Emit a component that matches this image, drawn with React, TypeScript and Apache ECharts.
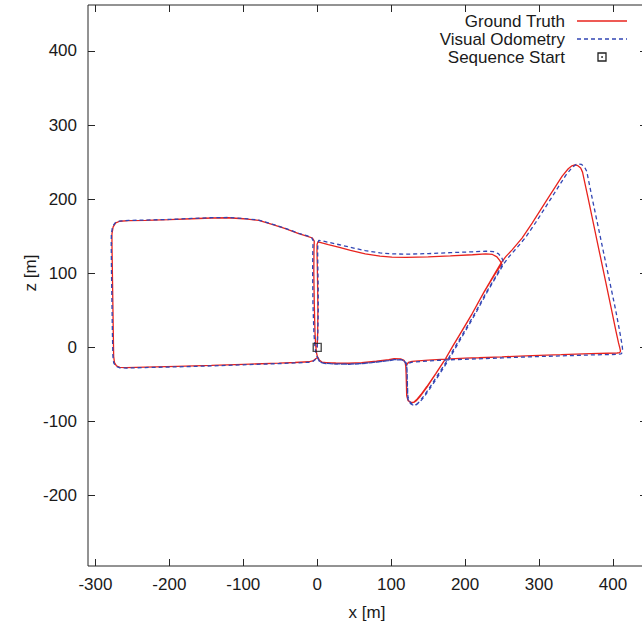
import React, { useEffect, useRef } from "react";
import * as echarts from "echarts";

const xTicks = [-300, -200, -100, 0, 100, 200, 300, 400];
const zTicks = [-200, -100, 0, 100, 200, 300, 400];
const xRange = [-310, 446];
const zRange = [-295, 462];
const legendLabels = ["Ground Truth", "Visual Odometry", "Sequence Start"];
const sequenceStart: [number, number][] = [[0, 0]];

const groundTruth: [number, number][] = [
  [0, 0], [0.6, 20], [0.9, 50], [0.6, 80], [0.1, 110], [-0.3, 130], [-0.2, 139], [1, 142.5],
  [5, 141.5], [15, 138.8], [30, 134.8], [45, 130.8], [65, 126.2], [85, 123.2], [101, 121.7], [120, 121.4], [150, 122], [180, 123.4], [210, 125], [228, 126.1], [237, 125.4], [243, 122.2], [247, 117], [249.5, 112.5],
  [240, 98], [225, 73.5], [209.5, 45.3], [195, 20.8], [183, 0.8], [173.5, -15.4], [160, -36.2], [148, -54.3], [140, -65.2], [134.5, -71.5], [130.5, -74.3], [126.5, -74.5], [123, -72], [121.3, -66.5],
  [120.6, -50], [120.2, -35], [119.8, -26], [118.9, -20.4], [116.8, -17.3], [112.6, -15.4],
  [104, -15.3], [96.8, -16.5], [80, -18.6], [60, -20.6], [42.6, -21.3], [25, -21.1], [12, -20.6], [6.5, -19.8], [3, -17.5], [1, -13.5],
  [-1.6, -15], [-5, -17.8], [-11.5, -19.4], [-30, -20.4], [-52, -21.3], [-100, -22.9], [-143, -24.4], [-190, -25.7], [-232, -26.7], [-258, -27.4], [-267, -27], [-271.5, -25], [-274.2, -20.5], [-275.3, -12],
  [-275.8, 20], [-276.4, 60], [-277, 100], [-277.6, 140], [-277.6, 153], [-276, 162.5], [-272.5, 168], [-267, 170.2], [-255, 171],
  [-232, 171.4], [-200, 172.3], [-170, 173.6], [-143, 174.6], [-120, 174.9], [-100, 173.6], [-79, 171.4], [-60, 165.5], [-43, 160.2], [-25, 153.5], [-13, 149.8], [-6.5, 147.6], [-4, 143.5],
  [-4.4, 130], [-4.6, 100], [-4, 60], [-3, 20], [-2, 2], [-0.8, -8], [0.3, -12.5],
  [2.8, -17.2], [6.8, -20.1], [25, -21.4], [42.6, -21.6], [60, -20.9], [80, -18.9], [96.8, -16.8], [104.5, -15.6], [112.8, -15.6], [117.3, -17.6], [119.4, -21.3], [120.2, -30], [120.6, -50], [121, -65], [122.8, -71.4], [126.3, -74.2], [130.6, -74], [134.2, -70.8],
  [140.3, -63.6], [148.3, -52.8], [160.3, -35.4], [173.8, -14.8], [183.3, 1.6], [195.3, 21.6], [209.8, 46], [225.3, 74.4], [240.3, 99.8], [248.5, 113.6], [255, 122.4], [263.6, 131.6], [277, 147.5], [290.7, 167.8], [310, 198], [331.3, 231], [339.5, 241], [344.5, 245], [348.5, 246.2], [352.5, 245.2], [356.3, 242], [358.8, 236.5],
  [366, 203], [374, 165], [382, 127], [390, 89], [398, 51], [404, 22], [407.5, 6], [409.3, -1], [410.2, -5.2], [409, -7.1], [405.5, -7.6],
  [370, -8.5], [330, -9.9], [290.7, -11], [250, -12.8], [218.5, -14], [200, -14.6], [173.5, -15.8], [150, -17.2], [128.3, -19], [123.3, -20.4], [121, -23.5],
];

const visualOdometry: [number, number][] = [
  [0, 0], [0.8, 20], [1.4, 50], [1.3, 80], [0.8, 110], [0.6, 130], [0.8, 140], [2.2, 144.5],
  [6, 144], [15, 141.8], [30, 138.5], [45, 135], [65, 130.5], [85, 127.5], [101, 126.2], [120, 125.8], [150, 126.5], [180, 127.8], [210, 129], [228, 129.8], [238, 129.2], [245, 126.5], [249.5, 121], [252, 115],
  [243.5, 99], [228.5, 74], [213, 45.5], [198.5, 21], [186.5, 0.8], [177, -15.6], [163.5, -36.5], [151.5, -55], [143.5, -66.5], [138, -73.5], [134, -77.2], [129, -77.6], [124.5, -75], [122.5, -69],
  [121.8, -50], [121.5, -35], [121.2, -26], [120.3, -21], [117.8, -18], [113, -16.5],
  [104, -16.6], [96.8, -17.8], [80, -19.8], [60, -21.8], [42.6, -22.5], [25, -22.3], [12, -21.8], [6.5, -21], [2.8, -18.5], [0.5, -14],
  [-2, -16], [-5.5, -18.8], [-12, -20.2], [-30, -21], [-52, -21.9], [-100, -23.5], [-143, -25], [-190, -26.3], [-232, -27.2], [-258, -27.9], [-267.5, -27.5], [-272.5, -25.5], [-275.2, -21], [-276.3, -12],
  [-277, 20], [-277.6, 60], [-278.2, 100], [-278.6, 140], [-278.4, 153], [-276.8, 163], [-273, 168.5], [-267.5, 170.5], [-255, 171.3],
  [-232, 171.8], [-200, 172.6], [-170, 174], [-143, 175], [-120, 175.3], [-100, 174], [-79, 171.8], [-60, 166], [-43, 160.6], [-25, 154], [-13, 150.3], [-7.5, 148], [-5.5, 144],
  [-6, 130], [-6.2, 100], [-5.8, 60], [-4.5, 20], [-3.2, 2], [-1.5, -8], [0, -13],
  [2.5, -18], [6.8, -21], [25, -22.5], [42.6, -22.8], [60, -22], [80, -20], [96.8, -17.9], [104.5, -16.8], [112.8, -16.8], [117.8, -18.6], [120.4, -22.3], [121.5, -30], [122, -50], [122.6, -66], [124.8, -73], [129, -77], [134, -77.4], [138.5, -74],
  [144.8, -66.6], [152.5, -55.5], [164.5, -37.5], [178, -16.5], [187.5, 0], [199.5, 20.5], [214, 45.5], [229.5, 74], [244.5, 99.6], [252.8, 113.5], [259.5, 122.5], [268, 132], [281.5, 148], [295.5, 168.5], [315, 199], [336, 232], [344.5, 242.5], [349.5, 246.5], [353.5, 247.6], [357.5, 246.8], [361.5, 243.5], [364.5, 237.5],
  [371.5, 203], [379.5, 165], [387.5, 127], [395.5, 89], [403.5, 51], [409, 22], [411.8, 6], [412.8, -1], [413, -6.2], [411, -8.8], [406.5, -9.4],
  [370, -10.2], [330, -11.5], [290.7, -12.6], [250, -14.2], [218.5, -15.4], [200, -16], [173.5, -17], [150, -18.3], [128.3, -20], [123.8, -21.3], [121.8, -24.5],
];

const FONT = "'Liberation Sans', Arial, Helvetica, sans-serif";
const TEXT_COLOR = "#1a1a1a";
const BORDER = "#262626";
const RED = "#e8231d";
const BLUE = "#3246b4";

export default function App() {
  const ref = useRef<HTMLDivElement>(null);
  useEffect(() => {
    if (!ref.current) return;
    const chart = echarts.init(ref.current, null, { renderer: "svg" });
    const tickCommon = { show: true, inside: true, length: 7, lineStyle: { color: BORDER, width: 1 } };
    const hiddenLine = { show: false, onZero: false };
    chart.setOption({
      animation: false,
      backgroundColor: "#ffffff",
      textStyle: { fontFamily: FONT },
      grid: {
        left: 88,
        top: 5,
        width: 559,
        height: 561,
        show: true,
        borderColor: BORDER,
        borderWidth: 1,
        backgroundColor: "transparent",
      },
      xAxis: [
        {
          type: "value",
          position: "bottom",
          min: xRange[0],
          max: xRange[1],
          axisLine: hiddenLine,
          splitLine: { show: false },
          axisTick: { ...tickCommon, customValues: xTicks },
          axisLabel: { customValues: xTicks, fontSize: 17, color: TEXT_COLOR, margin: 10, fontFamily: FONT },
        },
        {
          type: "value",
          position: "top",
          min: xRange[0],
          max: xRange[1],
          axisLine: hiddenLine,
          splitLine: { show: false },
          axisTick: { ...tickCommon, customValues: xTicks },
          axisLabel: { show: false },
        },
      ],
      yAxis: [
        {
          type: "value",
          position: "left",
          min: zRange[0],
          max: zRange[1],
          axisLine: hiddenLine,
          splitLine: { show: false },
          axisTick: { ...tickCommon, customValues: zTicks },
          axisLabel: { customValues: zTicks, fontSize: 17, color: TEXT_COLOR, margin: 11, fontFamily: FONT },
        },
        {
          type: "value",
          position: "right",
          min: zRange[0],
          max: zRange[1],
          axisLine: hiddenLine,
          splitLine: { show: false },
          axisTick: { ...tickCommon, customValues: zTicks },
          axisLabel: { show: false },
        },
      ],
      series: [
        {
          name: legendLabels[0],
          type: "line",
          xAxisIndex: 0,
          yAxisIndex: 0,
          data: groundTruth,
          showSymbol: false,
          symbol: "none",
          lineStyle: { color: RED, width: 1.3 },
          z: 2,
        },
        {
          name: legendLabels[1],
          type: "line",
          xAxisIndex: 0,
          yAxisIndex: 0,
          data: visualOdometry,
          showSymbol: false,
          symbol: "none",
          lineStyle: { color: BLUE, width: 1.3, type: [4, 3] },
          z: 3,
        },
        {
          name: legendLabels[2],
          type: "scatter",
          xAxisIndex: 0,
          yAxisIndex: 0,
          data: sequenceStart,
          symbol: "rect",
          symbolSize: 8,
          itemStyle: { color: "rgba(0,0,0,0)", borderColor: "#222", borderWidth: 1.4 },
          z: 4,
        },
      ],
      graphic: [
        {
          type: "text",
          x: 367,
          y: 612,
          style: { text: "x [m]", font: `17px ${FONT}`, fill: TEXT_COLOR, textAlign: "center", textVerticalAlign: "middle" },
        },
        {
          type: "text",
          x: 30,
          y: 273,
          rotation: Math.PI / 2,
          style: { text: "z [m]", font: `17px ${FONT}`, fill: TEXT_COLOR, textAlign: "center", textVerticalAlign: "middle" },
        },
        {
          type: "text",
          x: 565,
          y: 21,
          style: { text: legendLabels[0], font: `17px ${FONT}`, fill: TEXT_COLOR, textAlign: "right", textVerticalAlign: "middle" },
        },
        {
          type: "text",
          x: 565,
          y: 39,
          style: { text: legendLabels[1], font: `17px ${FONT}`, fill: TEXT_COLOR, textAlign: "right", textVerticalAlign: "middle" },
        },
        {
          type: "text",
          x: 565,
          y: 57,
          style: { text: legendLabels[2], font: `17px ${FONT}`, fill: TEXT_COLOR, textAlign: "right", textVerticalAlign: "middle" },
        },
        {
          type: "line",
          shape: { x1: 577, y1: 21, x2: 627, y2: 21 },
          style: { stroke: RED, lineWidth: 1.3 },
        },
        {
          type: "line",
          shape: { x1: 577, y1: 39, x2: 627, y2: 39 },
          style: { stroke: BLUE, lineWidth: 1.3, lineDash: [4, 3] },
        },
        {
          type: "rect",
          shape: { x: 598, y: 53, width: 8, height: 8 },
          style: { fill: "none", stroke: "#222", lineWidth: 1.3 },
        },
        {
          type: "circle",
          shape: { cx: 602, cy: 57, r: 0.9 },
          style: { fill: "#222" },
        },
      ],
    });
    return () => chart.dispose();
  }, []);
  return (
    <div
      style={{
        position: "fixed",
        left: 0,
        top: 0,
        width: 642,
        height: 625,
        overflow: "hidden",
        background: "#ffffff",
      }}
    >
      <div ref={ref} style={{ width: 660, height: 625 }} />
    </div>
  );
}
